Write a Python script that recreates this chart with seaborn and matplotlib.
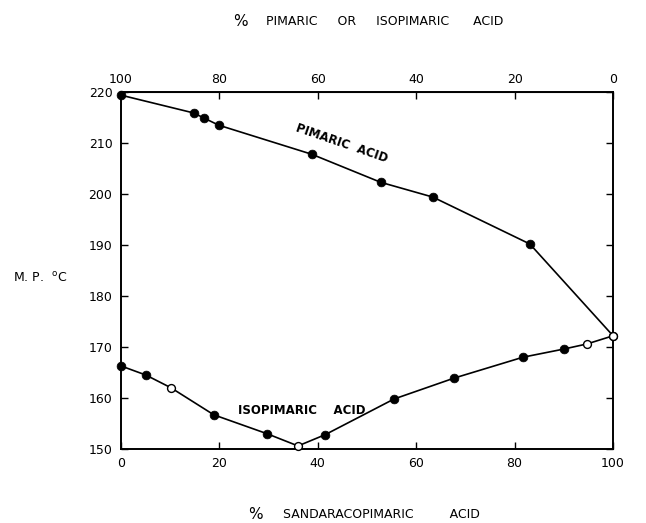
import matplotlib
matplotlib.use("Agg")
import matplotlib.pyplot as plt
import pandas as pd
import seaborn as sns

# % sandaracopimaric acid vs melting point
pimaric_x = [0, 14.8, 16.9, 19.9, 38.8, 52.8, 63.4, 83.1, 100]
pimaric_mp = [219.4, 215.9, 214.9, 213.5, 207.8, 202.3, 199.4, 190.2, 172.2]
pimaric_open = [False, False, False, False, False, False, False, False, True]

iso_x = [0, 5.1, 10.2, 18.9, 29.7, 36.0, 41.5, 55.5, 67.7, 81.7, 90.0, 94.7, 100]
iso_mp = [166.3, 164.5, 162.0, 156.7, 153.0, 150.6, 152.8, 159.8, 163.9, 168.0, 169.6, 170.6, 172.2]
iso_open = [False, False, True, False, False, True, False, False, False, False, False, True, True]

x_ticks = [0, 20, 40, 60, 80, 100]
y_ticks = [150, 160, 170, 180, 190, 200, 210, 220]


def build_frame():
    df_p = pd.DataFrame({"x": pimaric_x, "mp": pimaric_mp, "open": pimaric_open, "acid": "pimaric"})
    df_i = pd.DataFrame({"x": iso_x, "mp": iso_mp, "open": iso_open, "acid": "isopimaric"})
    return pd.concat([df_p, df_i], ignore_index=True)


def main():
    sns.set_style("ticks")
    plt.rcParams["font.family"] = ["DejaVu Sans"]
    plt.rcParams["text.color"] = "black"
    df = build_frame()

    fig = plt.figure(figsize=(6.46, 5.23), dpi=100)
    ax = fig.add_axes([0.187, 0.1415, 0.762, 0.6825])

    for acid, sub in df.groupby("acid"):
        sns.lineplot(data=sub, x="x", y="mp", ax=ax, color="black", lw=1.2, sort=True, estimator=None)
        filled = sub[~sub["open"]]
        hollow = sub[sub["open"]]
        sns.scatterplot(data=filled, x="x", y="mp", ax=ax, color="black", s=40, zorder=3,
                        edgecolor="black", clip_on=False)
        sns.scatterplot(data=hollow, x="x", y="mp", ax=ax, color="white", s=32, zorder=3,
                        edgecolor="black", linewidth=1, clip_on=False)

    ax.set_xlim(0, 100)
    ax.set_ylim(150, 220)
    ax.set_xticks(x_ticks)
    ax.set_yticks(y_ticks)
    ax.tick_params(direction="in", length=5, width=1, labelsize=9, right=True, pad=6,
                   colors="black")
    ax.set_xlabel("")
    ax.set_ylabel("")
    for sp in ax.spines.values():
        sp.set_linewidth(1.4)
        sp.set_color("black")

    top = ax.secondary_xaxis("top", functions=(lambda v: 100 - v, lambda v: 100 - v))
    top.set_xticks(x_ticks)
    top.tick_params(direction="in", length=5, width=1, labelsize=9, pad=4, colors="black")

    # curve labels
    ax.text(0.449, 0.855, "PIMARIC  ACID", transform=ax.transAxes, rotation=-19,
            fontsize=8.5, fontweight="bold", ha="center", va="center")
    ax.text(0.368, 0.109, "ISOPIMARIC    ACID", transform=ax.transAxes,
            fontsize=8.5, fontweight="bold", ha="center", va="center")

    # axis titles
    fig.text(240 / 646, 0.958, "%", fontsize=11, ha="center", va="center")
    fig.text(266 / 646, 0.958, "PIMARIC     OR     ISOPIMARIC      ACID", fontsize=9,
             ha="left", va="center")
    fig.text(255 / 646, 0.016, "%", fontsize=11, ha="center", va="center")
    fig.text(283 / 646, 0.016, "SANDARACOPIMARIC         ACID", fontsize=9,
             ha="left", va="center")
    fig.text(0.062, 0.468, "M. P.  $^{\\mathregular{o}}$C", fontsize=9, ha="center", va="center")

    fig.savefig("out.png", dpi=100)
    plt.close(fig)


if __name__ == "__main__":
    main()
